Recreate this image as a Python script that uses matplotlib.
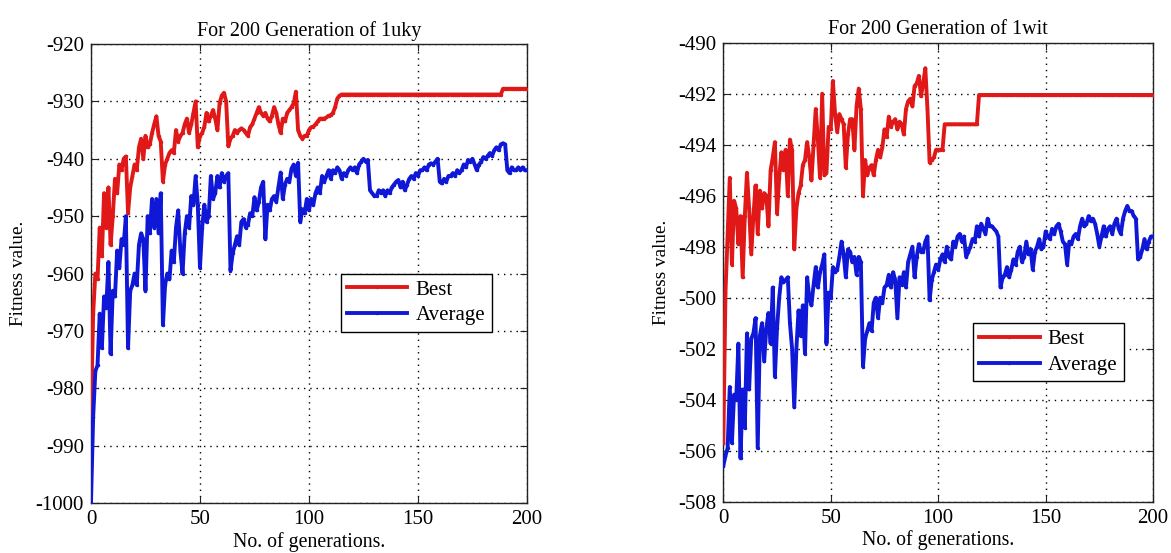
import matplotlib
matplotlib.use('Agg')
import matplotlib.pyplot as plt
import numpy as np

plt.rcParams['font.family'] = ['Liberation Serif', 'DejaVu Serif']
plt.rcParams['axes.unicode_minus'] = False

# ---------------- data ----------------
generations = np.arange(201)
x_ticks = [0, 50, 100, 150, 200]
left_yticks = [-1000, -990, -980, -970, -960, -950, -940, -930, -920]
right_yticks = [-508, -506, -504, -502, -500, -498, -496, -494, -492, -490]
titles = ["For 200 Generation of 1uky", "For 200 Generation of 1wit"]
series_names = ["Best", "Average"]

uky_best = [
    -985, -967, -960, -961, -952, -957, -946, -952, -945, -955,
    -950, -943.5, -946, -941, -942, -940, -939.6, -949.5, -945, -943,
    -941, -942, -938, -936.5, -940, -936, -938, -937.5, -935.5, -934,
    -932.6, -936, -937, -944, -941, -940, -939, -938.5, -939, -935,
    -937, -936, -935.5, -934, -933, -935.5, -934, -932, -930, -938,
    -936, -935.5, -934.4, -932, -933.5, -932.5, -931.5, -933, -935, -930.3,
    -929, -928.5, -930, -937.8, -936.5, -936, -935, -935.5, -935, -934.7,
    -935, -935.5, -936, -934.5, -934, -933, -932, -931, -932, -932.5,
    -932, -933, -933.5, -932.5, -931, -932, -934, -935.5, -933, -933.5,
    -932, -931.5, -931, -930.3, -928.3, -935, -936, -936.5, -936, -936,
    -935, -934.5, -934.4, -934, -933.5, -933, -933, -933, -932.8, -932.5,
    -932.4, -932, -931, -929.5, -929, -928.8, -928.8, -928.8, -928.8, -928.8,
    -928.8, -928.8, -928.8, -928.8, -928.8, -928.8, -928.8, -928.8, -928.8, -928.8,
    -928.8, -928.8, -928.8, -928.8, -928.8, -928.8, -928.8, -928.8, -928.8, -928.8,
    -928.8, -928.8, -928.8, -928.8, -928.8, -928.8, -928.8, -928.8, -928.8, -928.8,
    -928.8, -928.8, -928.8, -928.8, -928.8, -928.8, -928.8, -928.8, -928.8, -928.8,
    -928.8, -928.8, -928.8, -928.8, -928.8, -928.8, -928.8, -928.8, -928.8, -928.8,
    -928.8, -928.8, -928.8, -928.8, -928.8, -928.8, -928.8, -928.8, -928.8, -928.8,
    -928.8, -928.8, -928.8, -928.8, -928.8, -928.8, -928.8, -928.8, -928.8, -927.8,
    -927.8, -927.8, -927.8, -927.8, -927.8, -927.8, -927.8, -927.8, -927.8, -927.8,
    -927.8,
]

uky_avg = [
    -1000, -985, -977, -976, -967, -973, -964, -966, -958, -974,
    -963, -964, -956, -959, -954, -955, -950, -973, -963, -962,
    -960, -962, -955, -953, -954, -963, -950, -953, -947, -952,
    -947, -953, -946, -969, -962, -960, -961, -956, -958, -952,
    -949, -956, -960, -953, -950, -952, -946.5, -948, -943, -948,
    -959, -952, -948, -951, -950, -943, -947, -946, -943, -945,
    -942.5, -944, -943, -942.5, -959.5, -956.5, -955, -953.5, -955, -951,
    -950.5, -952, -951.5, -949.5, -950, -946.7, -949, -947.5, -945, -944,
    -954, -948, -949, -947, -946.5, -947.5, -945, -942.4, -947, -944.5,
    -943.5, -944, -941.7, -941, -943, -940.7, -951, -948.8, -949.5, -947,
    -949, -947, -948, -946, -945, -946, -943, -944, -943, -942,
    -943.5, -942, -942.5, -941.5, -942, -943.5, -942.5, -943, -942, -941.5,
    -942, -941.5, -942.5, -941, -940.5, -940, -940.5, -940.2, -945.5, -946,
    -946.5, -946.5, -945.5, -946, -945.5, -946.5, -945.5, -946, -945, -944.5,
    -944, -943.7, -945, -944, -945.5, -944.5, -943.5, -943, -943.5, -942.5,
    -943, -942, -942, -941.5, -942, -941, -940.8, -941, -940.5, -940,
    -944, -944.3, -943.5, -944, -943, -943, -942.5, -943, -942, -942.5,
    -942, -941, -941.5, -940.2, -940.5, -940, -941, -942, -941, -940.5,
    -939.7, -940, -939.5, -939, -939.5, -938.5, -938, -938.5, -937.5, -937.3,
    -937.5, -942, -942.5, -941.5, -942, -942, -941.5, -942, -941.5, -942,
    -942,
]

wit_best = [
    -505.7, -499.8, -497.5, -495.3, -498.7, -496.2, -496.5, -497.9, -496.8, -499.2,
    -496.8, -495.1, -496.5, -498.3, -496.8, -495.6, -497.5, -495.8, -496.5, -495.9,
    -496, -497.2, -495, -494.5, -493.9, -496.7, -495.3, -494.3, -495, -494.2,
    -496, -493.8, -494.2, -498.1, -496.5, -495.9, -495.6, -494.8, -494.6, -493.9,
    -494.5, -495.4, -494, -492.6, -493.8, -495.3, -492, -495.2, -495.1, -493.3,
    -493.4, -491.5, -492.8, -493.5, -492.8, -493, -493.2, -494.9, -493.6, -493,
    -493, -494.2, -492.5, -491.8, -492.6, -496, -494.6, -495.2, -494.9, -494.8,
    -495.2, -494.6, -494.2, -494.5, -494.1, -493.4, -493.7, -492.9, -493.3, -493.1,
    -493, -493.4, -493.1, -493.2, -493.6, -492.6, -492.3, -492.2, -492.5, -491.7,
    -491.6, -491.3, -492.1, -491.6, -491, -492.6, -494.7, -494.6, -494.5, -494.2,
    -494.2, -494.2, -494.2, -493.2, -493.2, -493.2, -493.2, -493.2, -493.2, -493.2,
    -493.2, -493.2, -493.2, -493.2, -493.2, -493.2, -493.2, -493.2, -493.2, -492.05,
    -492.05, -492.05, -492.05, -492.05, -492.05, -492.05, -492.05, -492.05, -492.05, -492.05,
    -492.05, -492.05, -492.05, -492.05, -492.05, -492.05, -492.05, -492.05, -492.05, -492.05,
    -492.05, -492.05, -492.05, -492.05, -492.05, -492.05, -492.05, -492.05, -492.05, -492.05,
    -492.05, -492.05, -492.05, -492.05, -492.05, -492.05, -492.05, -492.05, -492.05, -492.05,
    -492.05, -492.05, -492.05, -492.05, -492.05, -492.05, -492.05, -492.05, -492.05, -492.05,
    -492.05, -492.05, -492.05, -492.05, -492.05, -492.05, -492.05, -492.05, -492.05, -492.05,
    -492.05, -492.05, -492.05, -492.05, -492.05, -492.05, -492.05, -492.05, -492.05, -492.05,
    -492.05, -492.05, -492.05, -492.05, -492.05, -492.05, -492.05, -492.05, -492.05, -492.05,
    -492.05,
]

wit_avg = [
    -506.6, -506.2, -505.9, -503.5, -505.7, -503.8, -504, -501.8, -506.3, -503.6,
    -505.1, -501.4, -503.6, -501.6, -501.4, -500.8, -505.9, -501.5, -501, -502.5,
    -501.2, -500.6, -501.8, -499.6, -503.1, -501.2, -500, -499.2, -499.4, -499.3,
    -499.2, -501, -502, -504.3, -502, -500.5, -501.5, -500.3, -502.2, -499.2,
    -500, -500.3, -499.5, -498.8, -499.6, -499, -498.7, -498.3, -501.8, -499.8,
    -500, -498.8, -499, -498.9, -498.4, -497.8, -498.3, -499.2, -498.1, -498.2,
    -498.6, -498.4, -499.1, -498.4, -498.6, -502.7, -501.6, -501.3, -501, -501.3,
    -500.2, -500, -500.8, -500, -500.2, -499.6, -499.5, -499.1, -499.6, -499,
    -499.3, -500.8, -499.2, -499.5, -499, -499.6, -498.6, -498.3, -498, -499.2,
    -498.4, -497.9, -498.2, -498.2, -497.8, -497.6, -500.1, -499.3, -499, -498.7,
    -498.9, -498.5, -498.3, -498.6, -498, -498.4, -498.5, -497.8, -498, -497.6,
    -497.5, -497.8, -497.6, -498.4, -498.2, -498, -497.7, -497.8, -497.2, -497.6,
    -497.1, -497.3, -497.5, -496.9, -497.2, -497.2, -497.3, -497.4, -497.6, -499.6,
    -499.2, -499.1, -498.8, -499.2, -498.9, -498.5, -498.7, -498.2, -498, -498.6,
    -498.4, -497.8, -498.3, -498.1, -498.9, -498.2, -498, -497.7, -498.1, -498,
    -497.4, -497.6, -497.7, -497.3, -497.5, -497.2, -497.1, -497.4, -497.8, -497.9,
    -498.7, -497.8, -497.9, -497.6, -497.5, -497.7, -497.2, -496.9, -497.2, -497.1,
    -496.8, -497, -496.9, -497.1, -497.5, -498, -497.6, -497.2, -497.6, -497.3,
    -497.2, -497.5, -497.1, -496.9, -497.3, -497.5, -496.9, -496.6, -496.4, -496.6,
    -496.6, -496.8, -496.9, -498.5, -498.4, -498.1, -497.7, -498.1, -497.8, -497.6,
    -497.6,
]

# ---------------- styling ----------------
RED = '#e01818'
BLUE = '#1018d8'

fig = plt.figure(figsize=(11.71, 5.53), dpi=100)
ax1 = fig.add_axes([0.0777, 0.0904, 0.3723, 0.830])
ax2 = fig.add_axes([0.6177, 0.0928, 0.3670, 0.830])


def draw(ax, best, avg, ylim, yticks, title, leg_anchor):
    ax.plot(generations, best, color=RED, lw=2.8, marker='.', ms=3,
            label=series_names[0], zorder=3)
    ax.plot(generations, avg, color=BLUE, lw=2.8, marker='.', ms=3,
            label=series_names[1], zorder=3)
    ax.set_xlim(0, 200)
    ax.set_ylim(*ylim)
    ax.set_xticks(x_ticks)
    ax.set_yticks(yticks)
    ax.grid(True, color='black', linestyle=(0, (1, 3.5)), linewidth=1.0)
    ax.tick_params(direction='in', top=True, right=True, length=5,
                   labelsize=15, pad=5, color='#222222')
    for s in ax.spines.values():
        s.set_linewidth(1.0)
        s.set_color('#222222')
    ax.set_title(title, fontsize=14.5, pad=6)
    ax.set_xlabel("No. of generations.", fontsize=14.3, labelpad=2)
    ax.set_ylabel("Fitness value.", fontsize=13.8, labelpad=6)
    leg = ax.legend(loc='upper left', bbox_to_anchor=leg_anchor, borderaxespad=0,
                    fancybox=False, edgecolor='black', framealpha=1, fontsize=15,
                    handlelength=2.9, handletextpad=0.4, borderpad=0.3,
                    labelspacing=0.3)
    leg.get_frame().set_linewidth(1.0)


draw(ax1, uky_best, uky_avg, (-1000, -920), left_yticks, titles[0], (0.573, 0.4996))
draw(ax2, wit_best, wit_avg, (-508, -490), right_yticks, titles[1], (0.5806, 0.3885))

fig.savefig('out.png', dpi=100)
